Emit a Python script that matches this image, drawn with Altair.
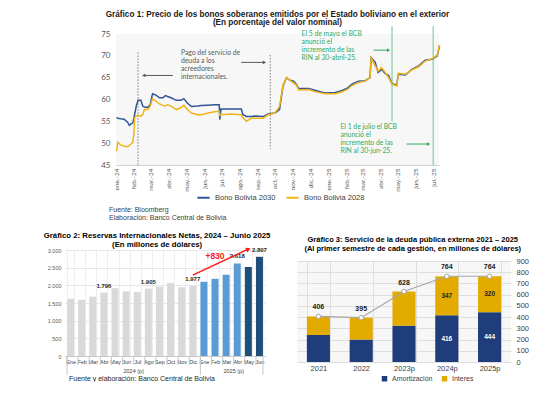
import altair as alt
import pandas as pd

SANS = "Liberation Sans"
CAL = "Lato"

# ---------------- Gráfico 1 data ----------------
fechas = [
    "2024-01-02", "2024-01-04", "2024-01-09", "2024-01-15", "2024-01-21", "2024-01-24", "2024-01-27", "2024-01-30",
    "2024-02-01", "2024-02-02", "2024-02-05", "2024-02-08", "2024-02-13", "2024-02-16", "2024-02-19", "2024-02-25", "2024-02-29",
    "2024-03-04", "2024-03-10", "2024-03-16", "2024-03-22", "2024-03-26", "2024-03-30",
    "2024-04-05", "2024-04-14", "2024-04-22", "2024-04-27",
    "2024-05-03", "2024-05-10", "2024-05-21", "2024-05-27",
    "2024-06-08", "2024-06-19", "2024-06-27", "2024-06-28", "2024-06-30",
    "2024-07-18", "2024-08-04", "2024-08-07", "2024-08-13", "2024-08-22", "2024-08-27",
    "2024-09-11", "2024-09-19", "2024-10-01", "2024-10-09", "2024-10-15", "2024-10-21", "2024-10-27",
    "2024-11-02", "2024-11-07", "2024-11-11", "2024-11-28", "2024-12-09", "2024-12-26",
    "2025-01-13", "2025-01-24", "2025-02-03", "2025-02-11", "2025-02-22", "2025-03-06", "2025-03-11", "2025-03-14",
    "2025-03-16", "2025-03-23", "2025-03-28", "2025-04-03", "2025-04-09", "2025-04-15", "2025-04-21", "2025-04-29",
    "2025-05-02", "2025-05-14", "2025-05-25", "2025-06-06", "2025-06-17", "2025-06-29", "2025-07-08", "2025-07-12",
]
bono_2030 = [
    55.9, 55.7, 55.6, 55.5, 54.8, 54.1, 54.4, 54.6,
    55.8, 56.5, 58.5, 59.8, 59.8, 58.5, 58.3, 58.2, 58.8,
    61.3, 61.0, 60.4, 60.4, 60.9, 60.7,
    60.4, 59.8, 59.8, 60.2,
    59.2, 58.4, 58.5, 58.6,
    58.7, 58.8, 58.8, 55.4, 57.8,
    57.8, 57.8, 56.5, 56.1, 56.1, 56.2,
    56.1, 56.7, 56.9, 57.7, 63.1, 65.0, 64.4,
    64.2, 63.5, 62.5, 62.5, 62.1, 61.5,
    61.6, 62.0, 62.6, 63.5, 64.2, 64.3, 64.8, 65.0,
    69.6, 68.5, 66.2, 66.9, 66.0, 65.5, 63.6, 63.3,
    65.8, 65.6, 66.9, 67.7, 69.0, 69.2, 70.0, 72.3,
]
bono_2028 = [
    48.2, 50.2, 49.6, 49.3, 49.2, 49.5, 49.8, 50.2,
    52.3, 55.8, 56.2, 56.4, 56.2, 56.5, 57.7, 57.7, 58.5,
    60.2, 59.6, 59.0, 58.6, 58.5, 58.8,
    58.5, 57.7, 58.1, 58.7,
    57.7, 56.9, 56.5, 56.5,
    56.9, 57.2, 57.3, 56.4, 56.5,
    56.7, 56.5, 55.8, 55.0, 55.8, 55.7,
    55.7, 56.5, 56.9, 58.4, 63.3, 65.0, 64.4,
    63.8, 63.3, 62.2, 62.3, 61.8, 61.3,
    61.3, 61.7, 62.3, 63.2, 63.9, 64.2, 64.8, 65.0,
    69.5, 67.7, 66.5, 67.3, 66.2, 65.0, 63.5, 63.1,
    66.0, 65.8, 66.8, 67.5, 68.8, 69.3, 70.2, 72.5,
]
series1 = ["Bono Bolivia 2030", "Bono Bolivia 2028"]
colores1 = ["#2f5597", "#f0b419"]

pago_fechas = ["2024-02-08", "2024-09-23"]
pago_desde = [70.8, 70.2]
pago_hasta = [45.0, 48.7]
bcb_fechas = ["2025-04-21", "2025-07-01"]
bcb_desde = [76.8, 76.8]
bcb_hasta = [54.9, 45.0]

flecha_inicio = ["2024-04-08", "2024-08-04", "2025-03-20", "2025-05-16"]
flecha_fin = ["2024-02-18", "2024-09-13", "2025-04-15", "2025-06-23"]
flecha_nivel = [65.5, 68.5, 71.3, 49.8]
flecha_forma = ["triangle-left", "triangle-right", "triangle-right", "triangle-right"]
flecha_tipo = ["gris", "gris", "verde", "verde"]

nota_fechas = ["2024-04-22", "2024-11-16", "2025-01-22"]
nota_nivel = [71.3, 75.7, 54.4]
nota_texto = [
    "Pago del servicio de\ndeuda a los\nacreedores\ninternacionales.",
    "El 5 de mayo el BCB\nanunció el\nincremento de las\nRIN al 30-abril-25.",
    "El 1 de julio el BCB\nanunció el\nincremento de las\nRIN al 30-jun-25.",
]
nota_tipo = ["gris", "verde", "verde"]

# ---------------- Gráfico 2 data ----------------
meses2 = ["Ene", "Feb", "Mar", "Abr", "May", "Jun", "Jul", "Ago", "Sep", "Oct", "Nov", "Dic",
          "Ene", "Feb", "Mar", "Abr", "May", "Jun"]
anios2 = ["2024"] * 12 + ["2025"] * 6
rin = [1620, 1595, 1680, 1796, 1920, 1830, 1815, 1905, 1960, 2070, 1945, 1977,
       2100, 2185, 2300, 2618, 2520, 2807]
etiq2 = ["", "", "", "1.796", "", "", "", "1.905", "", "", "", "1.977",
         "", "", "", "2.618", "", "2.807"]
grupo2 = ["2024"] * 12 + ["2025 ene-abr"] * 4 + ["2025 may-jun"] * 2
grupos2 = ["2024", "2025 ene-abr", "2025 may-jun"]
colores2 = ["#d9d9d9", "#5b9bd5", "#1f4e79"]

# ---------------- Gráfico 3 data ----------------
anios3 = ["2021", "2022", "2023p", "2024p", "2025p"]
amort3 = [241, 200, 324, 416, 444]
inter3 = [165, 195, 304, 347, 320]
total3 = [406, 395, 628, 764, 764]
etiq_amort3 = ["", "", "", "416", "444"]
etiq_inter3 = ["", "", "", "347", "320"]
componentes3 = ["Amortización", "Interes"]
colores3 = ["#1f3d7a", "#e3aa00"]

# =============== Gráfico 1 ===============
W1, H1 = 323, 131
n = len(fechas)
df1 = pd.DataFrame({
    "fecha": fechas + fechas,
    "precio": bono_2030 + bono_2028,
    "serie": [series1[0]] * n + [series1[1]] * n,
})
ticks1 = [alt.DateTime(year=2024 + m // 12, month=m % 12 + 1, date=1) for m in range(19)]
sc1x = alt.Scale(domain=[alt.DateTime(year=2024, month=1, date=1),
                         alt.DateTime(year=2025, month=7, date=11)])
ax1x = alt.Axis(values=ticks1,
                labelExpr="['ene','feb','mar','abr','may','jun','jul','ago','sep','oct','nov','dic'][month(datum.value)] + '.-' + timeFormat(datum.value, '%y')",
                labelAngle=270, labelFont=CAL, labelFontSize=6.5, labelColor="#595959",
                ticks=False, domainColor="#d0d0d0", grid=False, title=None, labelPadding=3)
sc1y = alt.Scale(domain=[45, 75], nice=False, zero=False)
ax1y = alt.Axis(values=[45, 50, 55, 60, 65, 70, 75], domain=False, ticks=False, grid=False,
                labelFont=CAL, labelFontSize=8, labelColor="#595959", labelPadding=6, title=None)


def X1(f):
    return alt.X(f"{f}:T", scale=sc1x, axis=ax1x)


def Y1(f):
    return alt.Y(f"{f}:Q", scale=sc1y, axis=ax1y)


pago = pd.DataFrame({"fecha": pago_fechas, "desde": pago_desde, "hasta": pago_hasta})
bcb = pd.DataFrame({"fecha": bcb_fechas, "desde": bcb_desde, "hasta": bcb_hasta})
flechas = pd.DataFrame({"inicio": flecha_inicio, "fin": flecha_fin, "nivel": flecha_nivel,
                        "forma": flecha_forma, "tipo": flecha_tipo})
notas = pd.DataFrame({"fecha": nota_fechas, "nivel": nota_nivel, "texto": nota_texto, "tipo": nota_tipo})

GRIS = "#595959"
VERDE = "#2eaa5e"

r_pago = alt.Chart(pago).mark_rule(color="#7f7f7f", strokeDash=[1.5, 1.5], strokeWidth=1).encode(
    x=X1("fecha"), y=Y1("desde"), y2="hasta:Q")
r_bcb = alt.Chart(bcb).mark_rule(color="#7fd19f", strokeWidth=1.2).encode(
    x=X1("fecha"), y=Y1("desde"), y2="hasta:Q")
lineas = alt.Chart(df1).mark_line(strokeWidth=1.5).encode(
    x=X1("fecha"), y=Y1("precio"),
    color=alt.Color("serie:N", scale=alt.Scale(domain=series1, range=colores1),
                    legend=alt.Legend(title=None, orient="none", legendX=80, legendY=156,
                                      direction="horizontal", symbolType="stroke",
                                      symbolStrokeWidth=2, symbolSize=150,
                                      labelFont=SANS, labelFontSize=7.5, labelColor="#404040",
                                      columnPadding=6)))
layers1 = [r_pago, r_bcb, lineas]
for tipo, col in [("gris", GRIS), ("verde", VERDE)]:
    d = flechas[flechas.tipo == tipo]
    layers1.append(alt.Chart(d).mark_rule(color=col, strokeWidth=1).encode(
        x=X1("inicio"), x2="fin:T", y=Y1("nivel")))
    layers1.append(alt.Chart(d).mark_point(color=col, filled=True, opacity=1, size=14).encode(
        x=X1("fin"), y=Y1("nivel"), shape=alt.Shape("forma:N", scale=None)))
    dn = notas[notas.tipo == tipo]
    layers1.append(alt.Chart(dn).mark_text(align="left", baseline="top", lineBreak="\n",
                                           font=CAL, fontSize=6.8, lineHeight=8, color=col).encode(
        x=X1("fecha"), y=Y1("nivel"), text="texto:N"))
fuente_txt = ["Fuente: Bloomberg", "Elaboración: Banco Central de Bolivia"]
for k, t in enumerate(fuente_txt):
    layers1.append(alt.Chart(pd.DataFrame({"t": [t]})).mark_text(
        align="left", baseline="middle", font=SANS, fontSize=7, color="#404040").encode(
        x=alt.value(-7), y=alt.value(H1 + 45 + 7.5 * k), text="t:N"))

chart1 = alt.layer(*layers1).properties(
    width=W1, height=H1,
    title=alt.TitleParams(
        ["Gráfico 1: Precio de los bonos soberanos emitidos por el Estado boliviano en el exterior",
         "(En porcentaje del valor nominal)"],
        font=SANS, fontSize=8.2, fontWeight="bold", lineHeight=8.5, offset=-2, color="#1a1a1a"),
    view=alt.ViewBackground(fill="#f7f7f7", stroke=None),
)

# =============== Gráfico 2 ===============
W2, H2 = 200, 106
cats2 = [f"{m}-{a}" for m, a in zip(meses2, anios2)]
df2 = pd.DataFrame({"cat": cats2, "rin": rin, "grupo": grupo2, "etiqueta": etiq2})
sc2x = alt.Scale(domain=cats2, paddingInner=0.37, paddingOuter=0.185)
ax2x = alt.Axis(title=None, labelExpr="isValid(datum.value) ? split(datum.value, '-')[0] : ''",
                labelAngle=0, labelFont=SANS, labelFontSize=5.5, labelColor="#404040",
                labelPadding=3, tickBand="extent", ticks=False, domainColor="#c8c8c8",
                grid=True, gridColor="#eeeeee")
sc2y = alt.Scale(domain=[0, 3000], nice=False)
ax2y = alt.Axis(values=[0, 500, 1000, 1500, 2000, 2500, 3000],
                labelExpr="replace(format(datum.value, ','), ',', '.')",
                labelFont=SANS, labelFontSize=5.5, labelColor="#595959", domain=False, ticks=False,
                gridColor="#e6e6e6", labelPadding=4, title=None)


def X2(f, bp=None):
    if bp is None:
        return alt.X(f"{f}:N", scale=sc2x, axis=ax2x)
    return alt.X(f"{f}:N", scale=sc2x, axis=ax2x, bandPosition=bp)


def Y2(f):
    return alt.Y(f"{f}:Q", scale=sc2y, axis=ax2y)


barras2 = alt.Chart(df2).mark_bar().encode(
    x=X2("cat"), y=Y2("rin"),
    color=alt.Color("grupo:N", scale=alt.Scale(domain=grupos2, range=colores2), legend=None))
etiquetas2 = alt.Chart(df2).mark_text(dy=-4, baseline="bottom", font=SANS, fontSize=6,
                                      fontWeight="bold", color="#262626").encode(
    x=X2("cat"), y=Y2("rin"), text="etiqueta:N")
flecha2 = pd.DataFrame({"c1": ["Dic-2024"], "c2": ["May-2025"], "v1": [2290], "v2": [3025],
                        "t": ["+830"], "ct": ["Feb-2025"], "vt": [2830]})
r_flecha2 = alt.Chart(flecha2).mark_rule(color="#ff1a1a", strokeWidth=1.5).encode(
    x=X2("c1"), x2="c2:N", y=Y2("v1"), y2="v2:Q")
p_flecha2 = alt.Chart(flecha2).mark_point(shape="triangle-right", angle=335, filled=True,
                                          opacity=1, size=28, color="#ff1a1a").encode(
    x=X2("c2"), y=Y2("v2"))
t_flecha2 = alt.Chart(flecha2).mark_text(font=SANS, fontSize=8.5, fontWeight="bold",
                                         color="#ff1a1a", dx=0).encode(
    x=X2("ct"), y=Y2("vt"), text="t:N")
anios_lbl = pd.DataFrame({"cat": ["Jul-2024", "Abr-2025"], "t": ["2024 (p)", "2025 (p)"]})
t_anios = alt.Chart(anios_lbl).mark_text(font=SANS, fontSize=5.5, color="#404040").encode(
    x=X2("cat", 0), y=alt.value(H2 + 15), text="t:N")
sep_cortas = alt.Chart(pd.DataFrame({"cat": cats2})).mark_rule(
    color="#c8c8c8", strokeWidth=1).encode(x=X2("cat", 0), y=alt.value(H2), y2=alt.value(H2 + 9))
sep_a = alt.Chart(pd.DataFrame({"cat": ["Ene-2024", "Ene-2025"]})).mark_rule(
    color="#c8c8c8", strokeWidth=1).encode(x=X2("cat", 0), y=alt.value(H2), y2=alt.value(H2 + 19))
sep_b = alt.Chart(pd.DataFrame({"cat": ["Jun-2025"]})).mark_rule(
    color="#c8c8c8", strokeWidth=1).encode(x=X2("cat", 1), y=alt.value(H2), y2=alt.value(H2 + 19))
fuente2 = alt.Chart(pd.DataFrame({"t": ["Fuente y elaboración: Banco Central de Bolivia"]})).mark_text(
    align="left", baseline="middle", font=SANS, fontSize=7, color="#262626").encode(
    x=alt.value(4), y=alt.value(H2 + 23), text="t:N")

chart2 = alt.layer(barras2, etiquetas2, r_flecha2, p_flecha2, t_flecha2, t_anios, sep_cortas,
                   sep_a, sep_b, fuente2).properties(
    width=W2, height=H2,
    title=alt.TitleParams(
        ["Gráfico 2: Reservas Internacionales Netas, 2024 – Junio 2025",
         "(En millones de dólares)"],
        font=SANS, fontSize=7.8, fontWeight="bold", lineHeight=9, offset=-2, color="#000000",
        frame="bounds"),
    view=alt.ViewBackground(fill="#ffffff", stroke=None),
)

# =============== Gráfico 3 ===============
W3, H3 = 214, 101
filas = []
for i, a in enumerate(anios3):
    filas.append({"anio": a, "componente": componentes3[0], "valor": amort3[i], "orden": 0,
                  "mid": amort3[i] / 2, "etiqueta": etiq_amort3[i]})
    filas.append({"anio": a, "componente": componentes3[1], "valor": inter3[i], "orden": 1,
                  "mid": amort3[i] + inter3[i] / 2, "etiqueta": etiq_inter3[i]})
df3 = pd.DataFrame(filas)
df3t = pd.DataFrame({"anio": anios3, "total": total3, "etiqueta": [str(v) for v in total3]})

sc3x = alt.Scale(domain=anios3, paddingInner=0.46, paddingOuter=0.23)
ax3x = alt.Axis(title=None, labelAngle=0, labelFont=SANS, labelFontSize=7.5, labelColor="#404040",
                labelPadding=2, ticks=False, tickBand="extent", domain=False, grid=True,
                gridColor="#dedede")
sc3y = alt.Scale(domain=[0, 900], nice=False)
ax3y = alt.Axis(orient="right", values=list(range(0, 1000, 100)), title=None, domain=False,
                ticks=False, labelFont=SANS, labelFontSize=7.5, labelColor="#404040",
                labelPadding=5, gridColor="#dedede")


def X3(f):
    return alt.X(f"{f}:N", scale=sc3x, axis=ax3x)


def Y3(f, **kw):
    return alt.Y(f"{f}:Q", scale=sc3y, axis=ax3y, **kw)


barras3 = alt.Chart(df3).mark_bar().encode(
    x=X3("anio"), y=Y3("valor", stack="zero"),
    color=alt.Color("componente:N", scale=alt.Scale(domain=componentes3, range=colores3),
                    legend=alt.Legend(title=None, orient="none", legendX=84, legendY=114,
                                      direction="horizontal", symbolType="square", symbolSize=30,
                                      labelFont=SANS, labelFontSize=7, labelColor="#404040",
                                      columnPadding=8)),
    order=alt.Order("orden:Q"))
seg3 = alt.Chart(df3).mark_text(font=SANS, fontSize=6.5, fontWeight="bold", baseline="middle").encode(
    x=X3("anio"), y=Y3("mid"), text="etiqueta:N",
    color=alt.Color("componente:N", scale=alt.Scale(domain=componentes3, range=["#ffffff", "#262626"]),
                    legend=None))
linea3 = alt.Chart(df3t).mark_line(color="#a6a6a6", strokeWidth=1.2).encode(
    x=X3("anio"), y=Y3("total"))
puntos3 = alt.Chart(df3t).mark_point(filled=True, fill="#ffffff", stroke="#a6a6a6", strokeWidth=1,
                                     size=20, opacity=1).encode(x=X3("anio"), y=Y3("total"))
tot3 = alt.Chart(df3t).mark_text(dy=-9, font=SANS, fontSize=7, fontWeight="bold",
                                 color="#1a1a1a").encode(x=X3("anio"), y=Y3("total"),
                                                         text="etiqueta:N")

chart3 = alt.layer(barras3, seg3, linea3, puntos3, tot3).resolve_scale(color="independent").properties(
    width=W3, height=H3,
    title=alt.TitleParams(
        ["Gráfico 3: Servicio de la deuda pública externa 2021 – 2025",
         "(Al primer semestre de cada gestión, en millones de dólares)"],
        font=SANS, fontSize=7.5, fontWeight="bold", lineHeight=8.5, offset=5, color="#000000",
        frame="bounds"),
    view=alt.ViewBackground(fill="#f7f7f7", stroke=None),
)


# =============== Composition ===============
def spacer(w, h):
    return alt.Chart(pd.DataFrame({"a": [0]})).mark_text().encode(
        text=alt.value(""), x=alt.value(0), y=alt.value(0)).properties(
        width=w, height=h, view=alt.ViewBackground(stroke=None))


top = alt.hconcat(spacer(35, 1), chart1, spacing=0).resolve_scale(color="independent")
col2 = alt.vconcat(spacer(1, 1), chart2, spacing=0)
col3 = alt.vconcat(spacer(1, 9), chart3, spacing=0).resolve_scale(color="independent")
bottom = alt.hconcat(col2, col3, spacing=26).resolve_scale(color="independent")
chart = alt.vconcat(top, bottom, spacing=0).resolve_scale(color="independent").properties(
    padding={"left": 35, "top": 1, "right": 0, "bottom": 0}
).configure_view(stroke=None)

chart.save("out.html", embed_options={"renderer": "svg", "actions": False})
